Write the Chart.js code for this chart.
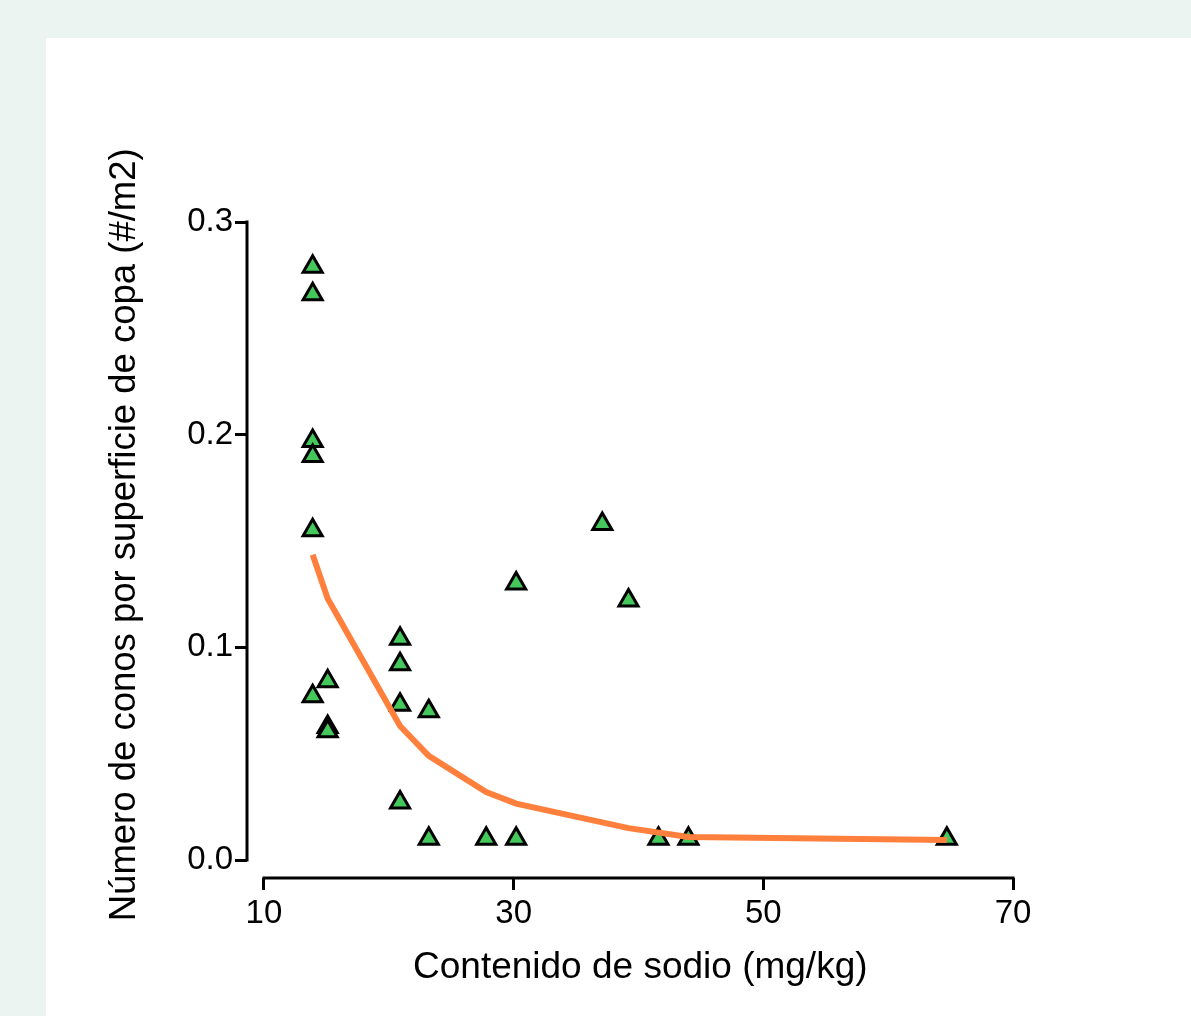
<!DOCTYPE html>
<html>
<head>
<meta charset="utf-8">
<script src="https://cdn.jsdelivr.net/npm/chart.js@4"></script>
<style>
  body { margin: 0; background: #ecf4f1; }
  #panel { position: absolute; left: 46px; top: 38px; right: 0; bottom: 0; background: #ffffff; }
  #conosChart { position: absolute; left: 0; top: 0; }
</style>
</head>
<body>
<div id="panel"></div>
<canvas id="conosChart" width="1191" height="1016"></canvas>
<script>
// observed points: sodium content vs cones per crown area
const sodio = [13.9, 13.9, 13.9, 13.9, 13.9, 13.9, 15.1, 15.1, 15.1, 20.9, 20.9, 20.9, 20.9, 23.2, 23.2, 27.8, 30.2, 30.2, 37.1, 39.2, 41.6, 44.0, 64.7];
const conos = [0.279, 0.266, 0.197, 0.190, 0.155, 0.077, 0.084, 0.0625, 0.0605, 0.104, 0.092, 0.073, 0.027, 0.070, 0.010, 0.010, 0.130, 0.010, 0.158, 0.122, 0.010, 0.010, 0.010];

// fitted curve
const ajusteX = [13.9, 15.1, 20.9, 23.2, 27.8, 30.2, 39.2, 44.0, 64.7];
const ajusteY = [0.1435, 0.123, 0.063, 0.049, 0.032, 0.0265, 0.015, 0.0108, 0.0094];

const xTicks = [10, 30, 50, 70];
const yTicks = [0.0, 0.1, 0.2, 0.3];

const FONT = "'Liberation Sans', Arial, sans-serif";

// axis lines only span the tick range (detached axes)
const axisLines = {
  id: "axisLines",
  beforeDatasetsDraw(chart) {
    const ctx = chart.ctx;
    const x = chart.scales.x;
    const y = chart.scales.y;
    const area = chart.chartArea;
    ctx.save();
    ctx.strokeStyle = "#000";
    ctx.lineWidth = 3;
    ctx.beginPath();
    ctx.moveTo(area.left, y.getPixelForValue(yTicks[yTicks.length - 1]) - 1.5);
    ctx.lineTo(area.left, y.getPixelForValue(yTicks[0]) + 1.5);
    ctx.moveTo(x.getPixelForValue(xTicks[0]) - 1.5, area.bottom);
    ctx.lineTo(x.getPixelForValue(xTicks[xTicks.length - 1]) + 1.5, area.bottom);
    ctx.stroke();
    ctx.restore();
  }
};

new Chart(document.getElementById("conosChart"), {
  type: "scatter",
  data: {
    datasets: [{
      label: "Ajuste",
      data: ajusteX.map((v, i) => ({ x: v, y: ajusteY[i] })),
      showLine: true,
      borderColor: "#ff7f3c",
      borderWidth: 6,
      pointRadius: 0,
      fill: false,
      clip: false
    }, {
      label: "Observado",
      data: sodio.map((v, i) => ({ x: v, y: conos[i] })),
      pointStyle: "triangle",
      pointRadius: 11,
      pointBackgroundColor: "#44c85c",
      pointBorderColor: "#000",
      pointBorderWidth: 3,
      clip: false
    }]
  },
  options: {
    responsive: false,
    animation: false,
    layout: { padding: { left: 100, top: 222, right: 178, bottom: 18 } },
    plugins: { legend: { display: false }, tooltip: { enabled: false } },
    scales: {
      x: {
        type: "linear",
        min: 8.64,
        max: 70,
        afterBuildTicks(scale) { scale.ticks = xTicks.map(v => ({ value: v })); },
        afterFit(scale) { scale.height = 120; },
        border: { display: false },
        grid: { drawOnChartArea: false, drawTicks: true, tickLength: 12, color: "#000", lineWidth: 3 },
        ticks: { color: "#000", padding: 4, maxRotation: 0, font: { family: FONT, size: 33 } },
        title: {
          display: true,
          text: "  Contenido de sodio (mg/kg)",
          color: "#000",
          padding: { top: 0, bottom: 8 },
          font: { family: FONT, size: 37, lineHeight: 1.2 }
        }
      },
      y: {
        type: "linear",
        min: -0.00846,
        max: 0.3,
        afterBuildTicks(scale) { scale.ticks = yTicks.map(v => ({ value: v })); },
        afterFit(scale) { scale.width = 147; },
        border: { display: false },
        grid: { drawOnChartArea: false, drawTicks: true, tickLength: 12, color: "#000", lineWidth: 3 },
        ticks: {
          color: "#000",
          padding: 2,
          font: { family: FONT, size: 33 },
          callback: v => v.toFixed(1)
        },
        title: {
          display: true,
          text: "   Número de conos por superficie de copa (#/m2)",
          color: "#000",
          padding: { top: 3, bottom: 0 },
          font: { family: FONT, size: 36.5, lineHeight: 1.2 }
        }
      }
    }
  },
  plugins: [axisLines]
});
</script>
</body>
</html>
